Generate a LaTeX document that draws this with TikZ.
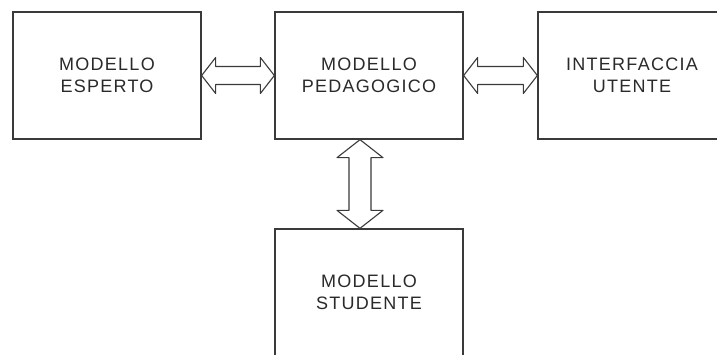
\documentclass[tikz,border=0pt]{standalone}
\usepackage{fontspec}
\setmainfont[LetterSpace=7]{Liberation Sans}
\usetikzlibrary{calc}
\definecolor{edge}{HTML}{3A3A3A}
\definecolor{ink}{HTML}{2A2A2A}

\begin{document}
\begin{tikzpicture}[x=1pt, y=1pt,
    every node/.style={font=\fontsize{18}{22}\selectfont},
    module/.style={rectangle, draw=edge, fill=white, line width=1.3pt, minimum width=188pt, minimum height=127pt, align=center, text=ink, inner sep=0pt},
    blk/.style={draw=edge, fill=white, line width=1.1pt, line join=round}
]
\clip (0,0) rectangle (717,354);
% Modules
\node[module] (ped) at (369,278.5) {MODELLO\\PEDAGOGICO};
\node[module] (esp) at (107,278.5) {MODELLO\\ESPERTO};
\node[module] (ui)  at (632,278.5) {INTERFACCIA\\UTENTE};
\node[module] (stu) at (369,61.5)  {MODELLO\\STUDENTE};

% Block arrows between modules
\draw[blk] (esp.east) -- ++(14,18) -- ++(0,-9) -- ($(ped.west)+(-14,9)$) -- ++(0,9) -- (ped.west) -- ++(-14,-18) -- ++(0,9) -- ($(esp.east)+(14,-9)$) -- ++(0,-9) -- cycle;
\draw[blk] (ped.east) -- ++(14,18) -- ++(0,-9) -- ($(ui.west)+(-14,9)$) -- ++(0,9) -- (ui.west) -- ++(-14,-18) -- ++(0,9) -- ($(ped.east)+(14,-9)$) -- ++(0,-9) -- cycle;
\draw[blk] ([xshift=-9pt]ped.south) -- ++(-23,-18) -- ++(12,0) -- ($(stu.north)+(-20,18)$) -- ++(-12,0) -- ([xshift=-9pt]stu.north) -- ++(23,18) -- ++(-12,0) -- ($(ped.south)+(2,-18)$) -- ++(12,0) -- cycle;
\end{tikzpicture}
\end{document}
